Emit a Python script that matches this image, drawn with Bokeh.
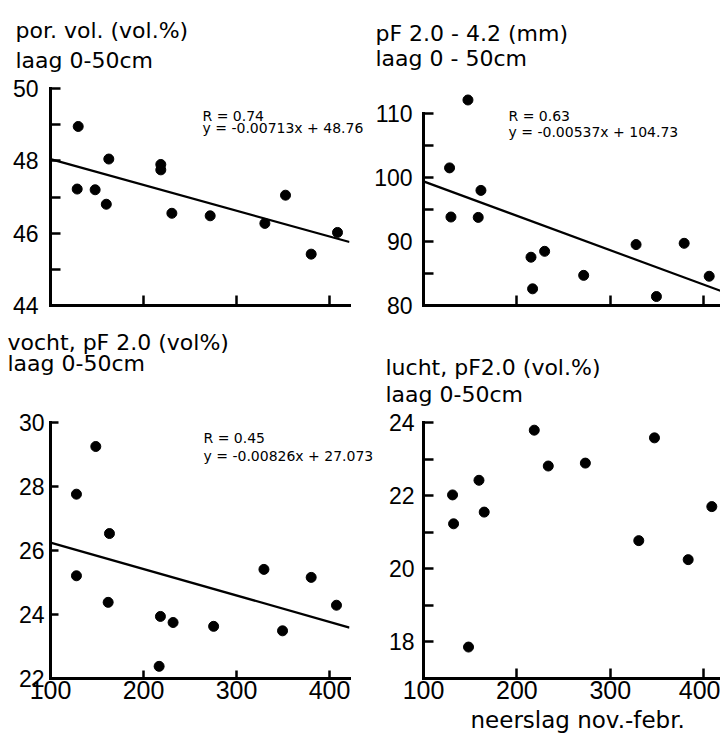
from bokeh.plotting import figure
from bokeh.models import Label, FixedTicker, Range1d
from bokeh.layouts import row, column
from bokeh.embed import file_html
from bokeh.resources import INLINE

# ---------------- data ----------------
# panel 1: pore volume (vol.%) vs precipitation nov.-febr.
por_x = [129.8, 128.7, 148.0, 160.0, 162.7, 218.6, 218.6, 230.5, 271.7, 330.5, 352.7, 380.3, 408.6]
por_y = [48.95, 47.22, 47.20, 46.80, 48.05, 47.90, 47.75, 46.55, 46.48, 46.27, 47.05, 45.42, 46.02]
por_slope, por_icpt = -0.00713, 48.76

# panel 2: pF 2.0 - 4.2 (mm)
pf_x = [147.6, 127.9, 129.4, 161.5, 158.6, 215.1, 229.7, 216.8, 271.5, 327.6, 349.4, 379.1, 405.9]
pf_y = [112.05, 101.46, 93.80, 97.95, 93.74, 87.53, 88.45, 82.60, 84.70, 89.50, 81.40, 89.70, 84.56]
pf_slope, pf_icpt = -0.0537, 104.73   # slope as drawn in the picture

# panel 3: moisture at pF 2.0 (vol%)
vocht_x = [148.7, 127.9, 163.4, 127.9, 162.0, 218.2, 231.8, 216.8, 275.4, 329.5, 349.5, 380.3, 407.5]
vocht_y = [29.25, 27.76, 26.53, 25.21, 24.38, 23.94, 23.75, 22.38, 23.63, 25.41, 23.49, 25.16, 24.29]
vocht_slope, vocht_icpt = -0.00826, 27.073

# panel 4: air at pF 2.0 (vol.%)
lucht_x = [218.6, 347.3, 233.6, 273.3, 159.4, 131.1, 165.0, 132.2, 330.5, 383.4, 408.7, 148.2]
lucht_y = [23.79, 23.58, 22.81, 22.89, 22.42, 22.02, 21.55, 21.23, 20.77, 20.25, 21.70, 17.86]

x_ticks = [100, 200, 300, 400]
x_end_left = 421.5
x_end_right = 418
line_x_left = [100, x_end_left]
line_x_right = [100, x_end_right]

TICK_FONT = "Liberation Sans"
TEXT_FONT = "DejaVu Sans"


def make_panel(width, height, mb, xr, yr, yticks, yminor, show_xlabels,
               ystandoff, ybounds=None, tick_len=10):
    p = figure(width=width, height=height, title=None,
               x_range=Range1d(*xr), y_range=Range1d(*yr),
               output_backend="svg", toolbar_location=None,
               min_border_left=mb[0], min_border_right=mb[1],
               min_border_top=mb[2], min_border_bottom=mb[3])
    p.outline_line_color = None
    p.xgrid.visible = False
    p.ygrid.visible = False
    xa = p.xaxis[0]
    ya = p.yaxis[0]
    xa.ticker = FixedTicker(ticks=x_ticks, minor_ticks=[])
    ya.ticker = FixedTicker(ticks=yticks, minor_ticks=yminor)
    if ybounds is not None:
        ya.bounds = ybounds
    for ax in (xa, ya):
        ax.axis_line_width = 3
        ax.axis_line_color = "black"
        ax.axis_line_cap = "square"
        ax.major_tick_in = tick_len
        ax.major_tick_out = 0
        ax.minor_tick_in = tick_len
        ax.minor_tick_out = 0
        ax.major_tick_line_width = 2.5
        ax.minor_tick_line_width = 2.5
        ax.major_tick_line_color = "black"
        ax.minor_tick_line_color = "black"
        ax.major_label_text_font = TICK_FONT
        ax.major_label_text_color = "black"
    ya.major_label_text_font_size = "23px"
    ya.major_label_standoff = ystandoff
    if show_xlabels:
        xa.major_label_text_font_size = "25px"
        xa.major_label_standoff = 2
    else:
        xa.major_label_text_font_size = "0px"
        xa.major_label_text_color = None
        xa.major_label_standoff = 0
    return p


# ---------------- panel 1 (top left) ----------------
p1 = make_panel(370, 318, (50, 21, 88, 11), (100, x_end_left), (44, 50),
                [44, 46, 48, 50], [45, 47, 49], False, 12)
p1.line(line_x_left, [por_slope * v + por_icpt for v in line_x_left], line_width=2.2, color="black")
p1.scatter(por_x, por_y, size=10, color="black")

# ---------------- panel 2 (top right) ----------------
p2 = make_panel(350, 318, (53, 0, 58, 13), (100, x_end_right), (80, 113.84),
                [80, 90, 100, 110], [85, 95, 105], False, 11, ybounds=(80, 110))
p2.line(line_x_right, [pf_slope * v + pf_icpt for v in line_x_right], line_width=2.2, color="black")
p2.scatter(pf_x, pf_y, size=10, color="black")

# ---------------- panel 3 (bottom left) ----------------
p3 = make_panel(370, 416, (50, 21, 67, 56), (100, x_end_left), (22, 30),
                [22, 24, 26, 28, 30], [], True, 6, tick_len=8)
p3.line(line_x_left, [vocht_slope * v + vocht_icpt for v in line_x_left], line_width=2.2, color="black")
p3.scatter(vocht_x, vocht_y, size=10, color="black")

# ---------------- panel 4 (bottom right) ----------------
p4 = make_panel(350, 416, (53, 0, 104, 55), (100, x_end_right), (17, 24),
                [18, 20, 22, 24], [19, 21, 23], True, 9)
p4.scatter(lucht_x, lucht_y, size=10, color="black")

# ---------------- transparent text layer over the whole page ----------------
txt = figure(width=720, height=734, x_range=Range1d(0, 720), y_range=Range1d(734, 0),
             x_axis_location=None, y_axis_location=None, title=None,
             min_border_left=0, min_border_right=0, min_border_top=0, min_border_bottom=0,
             output_backend="svg", toolbar_location=None)
txt.background_fill_color = None
txt.border_fill_color = None
txt.outline_line_color = None
txt.grid.visible = False
txt.margin = (-734, 0, 0, 0)


def add_text(x, y, text, size):
    txt.add_layout(Label(x=x, y=y, text=text, text_font=TEXT_FONT, text_font_size=size,
                         text_color="black", text_baseline="alphabetic", text_align="left"))


add_text(15, 30, "por. vol. (vol.%)", "22px")
add_text(15, 60, "laag 0-50cm", "22px")
add_text(202, 115, "R = 0.74", "14px")
add_text(202, 127, "y = -0.00713x + 48.76", "14px")

add_text(375, 33, "pF 2.0 - 4.2 (mm)", "22px")
add_text(375, 58, "laag 0 - 50cm", "22px")
add_text(508, 115, "R = 0.63", "14px")
add_text(508, 131, "y = -0.00537x + 104.73", "14px")

add_text(7, 342, "vocht, pF 2.0 (vol%)", "22px")
add_text(7, 363, "laag  0-50cm", "22px")
add_text(203, 437, "R = 0.45", "14px")
add_text(203, 455, "y = -0.00826x + 27.073", "14px")

add_text(385, 367, "lucht, pF2.0 (vol.%)", "22px")
add_text(385, 394, "laag  0-50cm", "22px")
add_text(470, 719, "neerslag nov.-febr.", "23px")

layout = column(row(p1, p2), row(p3, p4), txt)
open("out.html", "w").write(file_html(layout, INLINE))
